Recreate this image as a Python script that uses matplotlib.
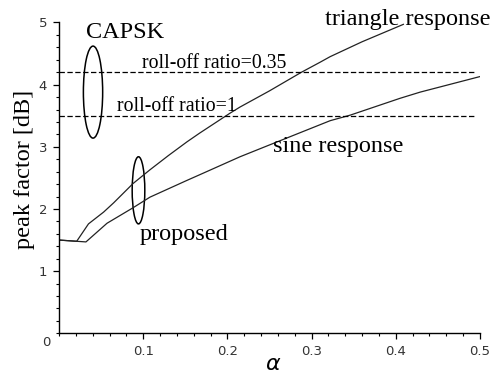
import matplotlib
matplotlib.use("Agg")
import matplotlib.pyplot as plt
from matplotlib.patches import Ellipse
from matplotlib.ticker import MultipleLocator

# peak factor vs alpha
tri_alpha = [0.0, 0.021, 0.035, 0.053, 0.065, 0.088, 0.108, 0.13, 0.152, 0.167,
             0.203, 0.215, 0.25, 0.288, 0.31, 0.322, 0.36, 0.409]
tri_peak = [1.50, 1.48, 1.76, 1.95, 2.10, 2.41, 2.63, 2.86, 3.08, 3.22,
            3.54, 3.64, 3.90, 4.20, 4.36, 4.45, 4.69, 4.97]

sine_alpha = [0.0, 0.021, 0.032, 0.057, 0.088, 0.108, 0.152, 0.167, 0.215,
              0.25, 0.322, 0.346, 0.405, 0.429, 0.5]
sine_peak = [1.50, 1.48, 1.47, 1.77, 2.02, 2.19, 2.46, 2.55, 2.84,
             3.03, 3.42, 3.51, 3.78, 3.88, 4.13]

# CAPSK reference levels
rolloff_levels = [4.2, 3.5]
rolloff_labels = ["roll-off ratio=0.35", "roll-off ratio=1"]
rolloff_end = 0.495

x_ticks = [0.1, 0.2, 0.3, 0.4, 0.5]
y_ticks = [1, 2, 3, 4, 5]

serif = "Liberation Serif"

fig = plt.figure(figsize=(4.93, 3.76), dpi=100)
ax = fig.add_axes([0.1197, 0.1136, 0.8539, 0.8266])

ax.plot(tri_alpha, tri_peak, color="#222222", lw=0.9)
ax.plot(sine_alpha, sine_peak, color="#222222", lw=0.9)
for lvl in rolloff_levels:
    ax.plot([0, rolloff_end], [lvl, lvl], color="black", lw=0.9,
            dashes=(4.3, 2.0))

# ellipses marking the groups
ax.add_patch(Ellipse((0.0404, 3.88), 0.0229, 1.48, fill=False,
                     ec="black", lw=1.1))
ax.add_patch(Ellipse((0.0944, 2.30), 0.0150, 1.08, fill=False,
                     ec="black", lw=1.1))

ax.text(0.032, 4.75, "CAPSK", family=serif, fontsize=17.5, va="baseline")
ax.text(0.316, 4.957, "triangle response", family=serif, fontsize=17.5,
        va="baseline")
ax.text(0.254, 2.92, "sine response", family=serif, fontsize=17.5,
        va="baseline")
ax.text(0.0962, 1.50, "proposed", family=serif, fontsize=17.5,
        va="baseline")
ax.text(0.098, 4.265, rolloff_labels[0], family=serif, fontsize=14.3,
        va="baseline")
ax.text(0.0685, 3.575, rolloff_labels[1], family=serif, fontsize=14.3,
        va="baseline")

ax.set_xlim(0, 0.5)
ax.set_ylim(0, 5)
ax.set_xticks(x_ticks)
ax.set_yticks(y_ticks)
ax.set_xticklabels([f"{v:.1f}" for v in x_ticks])
ax.set_yticklabels([str(v) for v in y_ticks])
ax.xaxis.set_minor_locator(MultipleLocator(0.02))
ax.yaxis.set_minor_locator(MultipleLocator(0.2))
ax.tick_params(which="major", length=4.5, width=0.9, labelsize=9.5,
               labelcolor="#333333", pad=4)
ax.tick_params(which="minor", length=2.5, width=0.8)

for side in ["top", "right"]:
    ax.spines[side].set_visible(False)
for side in ["left", "bottom"]:
    ax.spines[side].set_linewidth(1.0)

# shared origin label, axis titles
ax.text(-0.0146, -0.15, "0", fontsize=9.5, color="#333333",
        ha="center", va="center", clip_on=False)
ax.text(0.254, -0.50, r"$\alpha$", fontsize=16, ha="center", va="center",
        clip_on=False)
ax.text(-0.0404, 2.64, "peak factor [dB]", family=serif, fontsize=17.5,
        rotation=90, ha="center", va="center", clip_on=False)

fig.savefig("out.png", dpi=100)
